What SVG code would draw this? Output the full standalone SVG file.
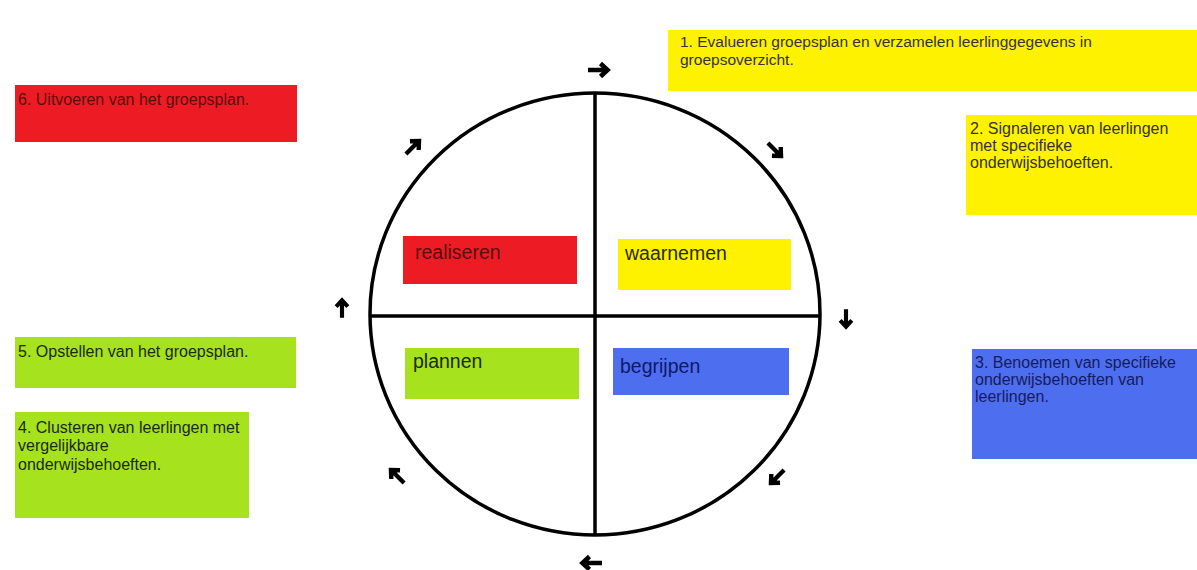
<svg xmlns="http://www.w3.org/2000/svg" width="1197" height="570" viewBox="0 0 1197 570">
  <defs>
    <style>
      text { font-family: "Liberation Sans", Arial, sans-serif; }
      .t { font-size: 16px; }
      .q { font-size: 19.5px; }
      .line { stroke: #000; stroke-width: 3.5; fill: none; }
      .arr { stroke: #000; stroke-width: 4.6; fill: none; stroke-linejoin: miter; }
    </style>
    <g id="arrow">
      <path class="arr" d="M-12,0 H7 M0.5,-6.5 L7.5,0 L0.5,6.5"/>
    </g>
  </defs>
  <rect width="1197" height="570" fill="#fff"/>

  <g id="cycle">
    <ellipse class="line" cx="595" cy="314" rx="225" ry="221"/>
    <line class="line" x1="595" y1="93" x2="595" y2="535"/>
    <line class="line" x1="370" y1="316" x2="820" y2="316"/>
  </g>

  <g id="connectors">
    <use href="#arrow" transform="translate(600,70)"/>
    <use href="#arrow" transform="translate(776,151) rotate(45) scale(0.95)"/>
    <use href="#arrow" transform="translate(846,320) rotate(90) scale(0.9)"/>
    <use href="#arrow" transform="translate(776,478) rotate(135) scale(0.95)"/>
    <use href="#arrow" transform="translate(590,563) rotate(180)"/>
    <use href="#arrow" transform="translate(396,475) rotate(225) scale(0.95)"/>
    <use href="#arrow" transform="translate(342,307) rotate(270) scale(0.9)"/>
    <use href="#arrow" transform="translate(414,146) rotate(315) scale(0.95)"/>
  </g>

  <g id="q-realiseren">
    <rect x="403" y="236" width="174" height="48" fill="#ed1c24"/>
    <text class="q" x="415" y="259" fill="#5a0a0c">realiseren</text>
  </g>
  <g id="q-waarnemen">
    <rect x="618" y="239" width="173" height="51" fill="#fff200"/>
    <text class="q" x="625" y="260" fill="#2a2a10">waarnemen</text>
  </g>
  <g id="q-plannen">
    <rect x="405" y="348" width="174" height="51" fill="#a6e21e"/>
    <text class="q" x="413" y="368" fill="#1a2a0a">plannen</text>
  </g>
  <g id="q-begrijpen">
    <rect x="613" y="348" width="176" height="47" fill="#4e6ef0"/>
    <text class="q" x="620" y="373" fill="#10186a">begrijpen</text>
  </g>

  <g id="step1">
    <rect x="668" y="30" width="529" height="61" fill="#fff200"/>
    <text class="t" x="680" y="47" fill="#333" style="font-size:15.5px">1. Evalueren groepsplan en verzamelen leerlinggegevens in</text>
    <text class="t" x="680" y="65" fill="#333" style="font-size:15.5px">groepsoverzicht.</text>
  </g>
  <g id="step2">
    <rect x="966" y="115" width="231" height="100" fill="#fff200"/>
    <text class="t" x="970" y="134" fill="#333">2. Signaleren van leerlingen</text>
    <text class="t" x="970" y="151" fill="#333">met specifieke</text>
    <text class="t" x="970" y="168" fill="#333">onderwijsbehoeften.</text>
  </g>
  <g id="step3">
    <rect x="972" y="349" width="225" height="110" fill="#4e6ef0"/>
    <text class="t" x="975" y="368" fill="#141c5c">3. Benoemen van specifieke</text>
    <text class="t" x="975" y="385" fill="#141c5c">onderwijsbehoeften van</text>
    <text class="t" x="975" y="402" fill="#141c5c">leerlingen.</text>
  </g>
  <g id="step4">
    <rect x="15" y="412" width="234" height="106" fill="#a6e21e"/>
    <text class="t" x="18" y="433" fill="#1a2a0a">4. Clusteren van leerlingen met</text>
    <text class="t" x="18" y="451" fill="#1a2a0a">vergelijkbare</text>
    <text class="t" x="18" y="470" fill="#1a2a0a">onderwijsbehoeften.</text>
  </g>
  <g id="step5">
    <rect x="15" y="337" width="281" height="51" fill="#a6e21e"/>
    <text class="t" x="18" y="357" fill="#1a2a0a">5. Opstellen van het groepsplan.</text>
  </g>
  <g id="step6">
    <rect x="15" y="85" width="282" height="57" fill="#ed1c24"/>
    <text class="t" x="18" y="105" fill="#5a0a0c">6. Uitvoeren van het groepsplan.</text>
  </g>
</svg>
